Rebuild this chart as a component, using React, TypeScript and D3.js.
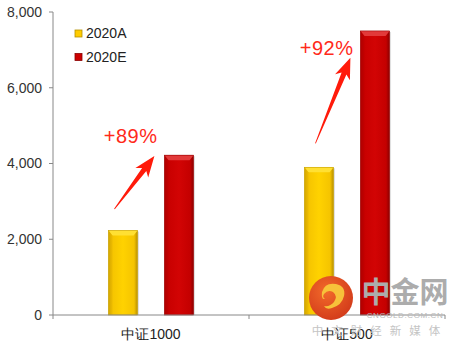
import React from "react";
import * as d3 from "d3";

const categories = ["中证1000", "中证500"];
const seriesNames = ["2020A", "2020E"];
const values2020A = [2230, 3900];
const values2020E = [4220, 7500];
const yTicks = [0, 2000, 4000, 6000, 8000];
const growthLabels = ["+89%", "+92%"];
const labelValues = [4530, 6870];
const arrowFromValues = [2800, 4530];
const arrowToValues = [4200, 6790];

const W = 465, H = 348;
const M = { left: 53, right: 20, top: 12, bottom: 33 };

export default function App() {
  const x = d3.scaleBand<string>().domain(categories).range([M.left, W - M.right]).padding(0);
  const inner = d3.scaleBand<string>().domain(seriesNames).range([0, x.bandwidth()]).paddingInner(0.48).paddingOuter(0.99);
  const y = d3.scaleLinear().domain([0, 8000]).range([H - M.bottom, M.top]);
  const fmt = d3.format(",");
  const bw = inner.bandwidth();
  const y0 = y(0);

  const bars: { cat: string; s: string; v: number }[] = [];
  categories.forEach((c, i) => {
    bars.push({ cat: c, s: seriesNames[0], v: values2020A[i] });
    bars.push({ cat: c, s: seriesNames[1], v: values2020E[i] });
  });

  const arrowPath = (x1: number, y1: number, x2: number, y2: number) => {
    const dx = x2 - x1, dy = y2 - y1;
    const L = Math.hypot(dx, dy);
    const ux = dx / L, uy = dy / L;
    const nx = -uy, ny = ux;
    const h = 17;
    const bx = x2 - ux * h, by = y2 - uy * h;
    const p = (px: number, py: number) => `${px.toFixed(1)},${py.toFixed(1)}`;
    return "M" + [
      p(x1 + nx * 0.4, y1 + ny * 0.4),
      p(bx + nx * 2.6, by + ny * 2.6),
      p(bx - ux * 4 + nx * 8, by - uy * 4 + ny * 8),
      p(x2, y2),
      p(bx - ux * 4 - nx * 8, by - uy * 4 - ny * 8),
      p(bx - nx * 2.6, by - ny * 2.6),
      p(x1 - nx * 0.4, y1 - ny * 0.4),
    ].join("L") + "Z";
  };

  return (
    <svg width={W} height={H} style={{ position: "absolute", left: 0, top: 0, background: "#fff" }} fontFamily="'Liberation Sans', Arial, sans-serif">
      <defs>
        <linearGradient id="gA" x1="0" x2="1" y1="0" y2="0">
          <stop offset="0" stopColor="#c79c00" />
          <stop offset="0.12" stopColor="#f5c400" />
          <stop offset="0.5" stopColor="#ffd200" />
          <stop offset="0.88" stopColor="#f5c400" />
          <stop offset="1" stopColor="#b89000" />
        </linearGradient>
        <linearGradient id="gE" x1="0" x2="1" y1="0" y2="0">
          <stop offset="0" stopColor="#a80000" />
          <stop offset="0.12" stopColor="#c80000" />
          <stop offset="0.5" stopColor="#d20404" />
          <stop offset="0.88" stopColor="#c40000" />
          <stop offset="1" stopColor="#8c0000" />
        </linearGradient>
        <radialGradient id="wm" cx="0.4" cy="0.35" r="0.7">
          <stop offset="0" stopColor="#f26a2a" />
          <stop offset="1" stopColor="#d23a1a" />
        </radialGradient>
      </defs>

      {/* y axis */}
      <line x1={M.left} x2={M.left} y1={M.top} y2={y0} stroke="#888" strokeWidth={1} />
      {yTicks.map((t) => (
        <g key={t}>
          <line x1={M.left - 4} x2={M.left} y1={y(t)} y2={y(t)} stroke="#888" />
          <text x={M.left - 11} y={y(t)} dy="0.35em" textAnchor="end" fontSize={14} fill="#333">{fmt(t)}</text>
        </g>
      ))}

      {/* bars */}
      {bars.map((b, i) => {
        const bx = (x(b.cat) as number) + (inner(b.s) as number);
        const by = y(b.v);
        const isA = b.s === seriesNames[0];
        const bev = 5;
        return (
          <g key={i}>
            <rect x={bx + 1.5} y={by + 1} width={bw} height={y0 - by - 1} fill="#000" opacity={0.12} />
            <rect x={bx} y={by} width={bw} height={y0 - by} fill={`url(#g${isA ? "A" : "E"})`} />
            <path d={`M${bx},${by}L${bx + bw},${by}L${bx + bw - 4},${by + bev}L${bx + 4},${by + bev}Z`} fill={isA ? "#ffe033" : "#e23a3a"} />
            <path d={`M${bx},${by}L${bx + 4},${by + bev}L${bx + 4},${y0}L${bx},${y0}Z`} fill={isA ? "#e0b000" : "#b80000"} opacity={0.5} />
            <rect x={bx} y={by} width={bw} height={y0 - by} fill="none" stroke={isA ? "#c9a200" : "#9a0000"} strokeWidth={0.6} />
          </g>
        );
      })}

      {/* x axis */}
      <line x1={M.left} x2={W - M.right} y1={y0} y2={y0} stroke="#888" />
      {[...categories.map((c) => x(c) as number), W - M.right].map((t, i) => (
        <line key={i} x1={t} x2={t} y1={y0} y2={y0 + 4} stroke="#888" />
      ))}
      {categories.map((c) => (
        <text key={c} x={(x(c) as number) + x.bandwidth() / 2} y={y0 + 19} dy="0.35em" textAnchor="middle" fontSize={14} fill="#222">{c}</text>
      ))}

      {/* annotations */}
      {categories.map((c, i) => {
        const gx = x(c) as number;
        const ax = gx + (inner(seriesNames[0]) as number);
        const ex = gx + (inner(seriesNames[1]) as number);
        const tailX = ax + (i === 0 ? 6 : 11);
        const tipX = ex - 10;
        return (
          <g key={c}>
            <path d={arrowPath(tailX, y(arrowFromValues[i]), tipX, y(arrowToValues[i]))} fill="#ff1a0a" />
            <text x={ex - 7} y={y(labelValues[i])} textAnchor="end" fontSize={20} fill="#ff2a1a" letterSpacing="0.5">{growthLabels[i]}</text>
          </g>
        );
      })}

      {/* legend */}
      {seriesNames.map((s, i) => (
        <g key={s} transform={`translate(75,${30 + i * 23.5})`}>
          <rect x={0} y={0} width={7} height={7} fill={i === 0 ? "#ffcc00" : "#cc0000"} stroke={i === 0 ? "#b38f00" : "#8a0000"} strokeWidth={0.8} />
          <text x={11} y={3.5} dy="0.35em" fontSize={14} fill="#222">{s}</text>
        </g>
      ))}

      {/* watermark */}
      <g>
        <circle cx={331} cy={298} r={22} fill="url(#wm)" />
        <path d="M322,292 q3,-10 14,-8 q10,2 8,12 q-2,9 -12,12 q-6,2 -8,-2 q6,1 10,-4 q4,-6 -1,-10 q-5,-3 -9,2 q-2,3 1,5 q-4,1 -3,-7Z" fill="#f7c23a" />
        <text x={405} y={303} textAnchor="middle" fontSize={29} fontWeight="bold" fill="#acacac" fontFamily="'Noto Sans CJK SC', sans-serif">中金网</text>
        <text x={405} y={318} textAnchor="middle" fontSize={8} fill="#b8b8b8" letterSpacing="0.6">CNGOLD.COM.CN</text>
        <text x={380} y={335} textAnchor="middle" fontSize={11.5} fill="#c4c4c4" letterSpacing="8" fontFamily="'Noto Sans CJK SC', sans-serif">中文财经新媒体</text>
      </g>
    </svg>
  );
}
